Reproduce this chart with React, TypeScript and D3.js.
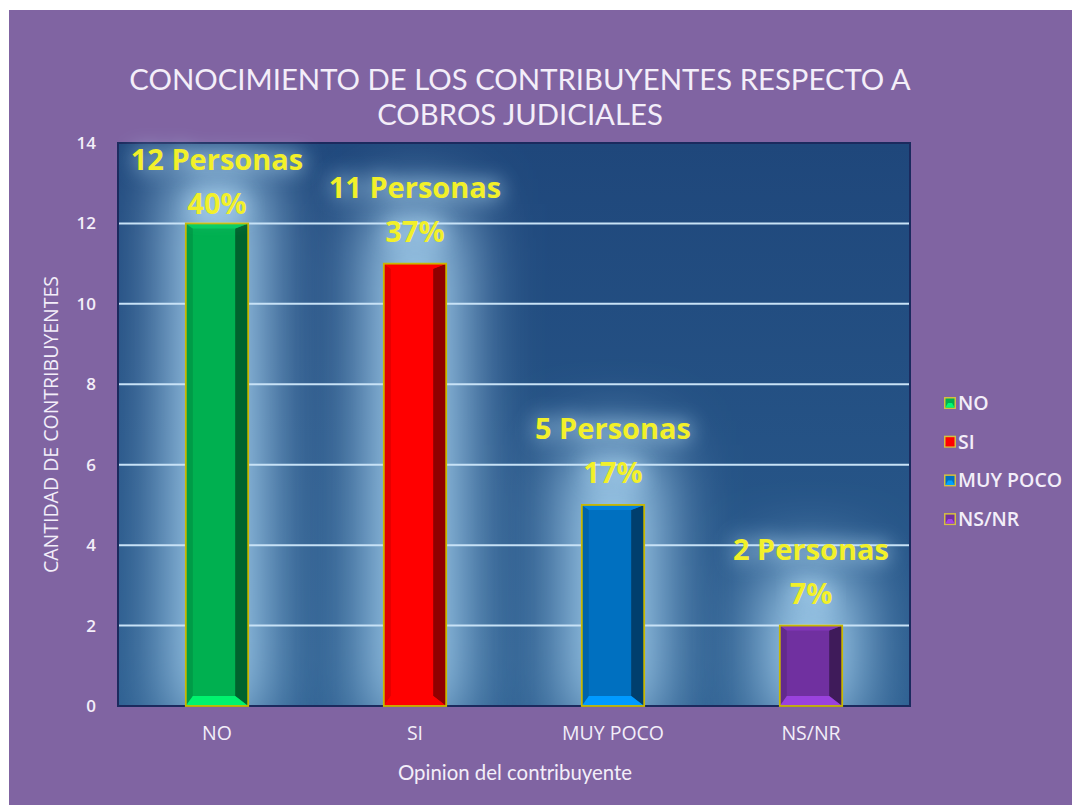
import React from "react";
import * as d3 from "d3";

const categories = ["NO", "SI", "MUY POCO", "NS/NR"];
const values = [12, 11, 5, 2];
const percents = ["40%", "37%", "17%", "7%"];
const barColors = ["#00b050", "#ff0000", "#0070c0", "#7030a0"];
const yTicks = [0, 2, 4, 6, 8, 10, 12, 14];
const titleLines = ["CONOCIMIENTO DE LOS CONTRIBUYENTES RESPECTO A", "COBROS JUDICIALES"];
const yTitle = "CANTIDAD DE CONTRIBUYENTES";
const xTitle = "Opinion del contribuyente";

const W = 1072;
const H = 805;
const M = { left: 118, right: 910, top: 143, bottom: 706 };
const LATO = "Lato, 'Open Sans', sans-serif";
const OPEN = "'Open Sans', Lato, sans-serif";
const TXT = "#f3eef9";

export default function App() {
  const x = d3.scaleBand<string>().domain(categories).range([M.left, M.right]).paddingInner(0.685).paddingOuter(0.3425);
  const y = d3.scaleLinear().domain([0, 14]).range([M.bottom, M.top]);
  const bw = x.bandwidth();

  return (
    <svg width={W} height={H} style={{ position: "absolute", left: 0, top: 0, display: "block" }}>
      <defs>
        <linearGradient id="plotBg" x1="0" y1="0" x2="0" y2="1">
          <stop offset="0" stopColor="#1f477b" />
          <stop offset="1" stopColor="#2a5c8e" />
        </linearGradient>
        <filter id="glow" x="-200%" y="-100%" width="500%" height="300%">
          <feGaussianBlur stdDeviation="36" />
        </filter>
        <filter id="txtGlow" x="-30%" y="-80%" width="160%" height="260%">
          <feGaussianBlur stdDeviation="10" />
        </filter>
        <clipPath id="plotClip">
          <rect x={M.left} y={M.top} width={M.right - M.left} height={M.bottom - M.top} />
        </clipPath>
      </defs>
      <rect x={0} y={0} width={W} height={H} fill="#ffffff" />
      <rect x={9} y={10} width={W - 9} height={H - 10} fill="#8064a2" />

      {titleLines.map((t, i) => (
        <text key={t} x={520} y={90 + i * 35} textAnchor="middle" fontFamily={LATO} fontSize={29.3} fill={TXT}>
          {t}
        </text>
      ))}

      {/* plot area */}
      <rect x={M.left} y={M.top} width={M.right - M.left} height={M.bottom - M.top} fill="url(#plotBg)" />
      <g clipPath="url(#plotClip)">
        {categories.map((c, i) => {
          const x0 = x(c)!;
          const top = y(values[i]);
          return (
            <g key={c} filter="url(#glow)">
              <rect x={x0 - 14} y={top - 60} width={bw + 28} height={M.bottom - top + 80} fill="#b0dcf8" />
            </g>
          );
        })}
      </g>
      {yTicks.filter((t) => t > 0).map((t) => (
        <line key={t} x1={M.left} x2={M.right} y1={y(t)} y2={y(t)} stroke="#c8e2f6" strokeWidth={2} />
      ))}
      <line x1={M.left} x2={M.right} y1={M.bottom} y2={M.bottom} stroke="#d6e6f6" strokeWidth={2} />
      <rect x={M.left} y={M.top} width={M.right - M.left} height={M.bottom - M.top} fill="none" stroke="#1b2a5e" strokeWidth={2} />

      {/* bars */}
      {categories.map((c, i) => {
        const x0 = x(c)!;
        const x1 = x0 + bw;
        const y0 = y(values[i]);
        const y1 = y(0);
        const base = d3.color(barColors[i])!;
        const bl = 7;
        const br = 13;
        const bt = 5;
        const bb = 10;
        const dark = d3.color(barColors[i])!.darker(1.6).formatHex();
        const mid = d3.color(barColors[i])!.darker(0.35).formatHex();
        const light = d3.color(barColors[i])!.brighter(0.9).formatHex();
        const topc = d3.color(barColors[i])!.brighter(0.4).formatHex();
        return (
          <g key={c}>
            <rect x={x0} y={y0} width={bw} height={y1 - y0} fill={base.formatHex()} />
            <polygon points={`${x0},${y0} ${x0 + bl},${y0 + bt} ${x0 + bl},${y1 - bb} ${x0},${y1}`} fill={mid} />
            <polygon points={`${x1},${y0} ${x1 - br},${y0 + bt} ${x1 - br},${y1 - bb} ${x1},${y1}`} fill={dark} />
            <polygon points={`${x0},${y1} ${x0 + bl},${y1 - bb} ${x1 - br},${y1 - bb} ${x1},${y1}`} fill={light} />
            <polygon points={`${x0},${y0} ${x0 + bl},${y0 + bt} ${x1 - br},${y0 + bt} ${x1},${y0}`} fill={topc} />
            <rect x={x0} y={y0} width={bw} height={y1 - y0} fill="none" stroke="#c9b800" strokeWidth={1.8} />
          </g>
        );
      })}

      {/* data labels */}
      {categories.map((c, i) => {
        const cx = x(c)! + bw / 2;
        const top = y(values[i]);
        const l1 = Math.max(top - 66, M.top + 27);
        const l2 = l1 + 44;
        const lines = [`${values[i]} Personas`, percents[i]];
        return (
          <g key={c} fontFamily={OPEN} fontWeight={700} fontSize={29} textAnchor="middle">
            {lines.map((t, j) => (
              <text key={j} x={cx} y={j === 0 ? l1 : l2} fill="#b8e2fc" opacity={0.6} filter="url(#txtGlow)" stroke="#b8e2fc" strokeWidth={3}>
                {t}
              </text>
            ))}
            {lines.map((t, j) => (
              <text key={"t" + j} x={cx} y={j === 0 ? l1 : l2} fill="#f2f02a">
                {t}
              </text>
            ))}
          </g>
        );
      })}

      {/* y axis */}
      {yTicks.map((t) => (
        <text key={t} x={96} y={y(t) + 6} textAnchor="end" fontFamily={OPEN} fontWeight={600} fontSize={17} fill={TXT}>
          {t}
        </text>
      ))}
      <text transform={`translate(58,${(M.top + M.bottom) / 2}) rotate(-90)`} textAnchor="middle" fontFamily={OPEN} fontSize={19.5} fill={TXT}>
        {yTitle}
      </text>

      {/* x axis */}
      {categories.map((c) => (
        <text key={c} x={x(c)! + bw / 2} y={740} textAnchor="middle" fontFamily={OPEN} fontSize={19.5} fill={TXT}>
          {c}
        </text>
      ))}
      <text x={515} y={780} textAnchor="middle" fontFamily={LATO} fontSize={20.4} fill={TXT}>
        {xTitle}
      </text>

      {/* legend */}
      {categories.map((c, i) => {
        const ly = 403 + i * 38.7;
        return (
          <g key={c}>
            <rect x={944} y={ly - 6} width={12} height={12} fill="#d4c040" />
            <rect x={945.5} y={ly - 4.5} width={9} height={9} fill={barColors[i]} />
            <polygon points={`${945.5},${ly + 4.5} ${948},${ly} ${952},${ly} ${954.5},${ly + 4.5}`} fill={d3.color(barColors[i])!.brighter(1).formatHex()} />
            <text x={958} y={ly + 7} fontFamily={OPEN} fontWeight={600} fontSize={19.5} fill={TXT}>
              {c}
            </text>
          </g>
        );
      })}
    </svg>
  );
}
